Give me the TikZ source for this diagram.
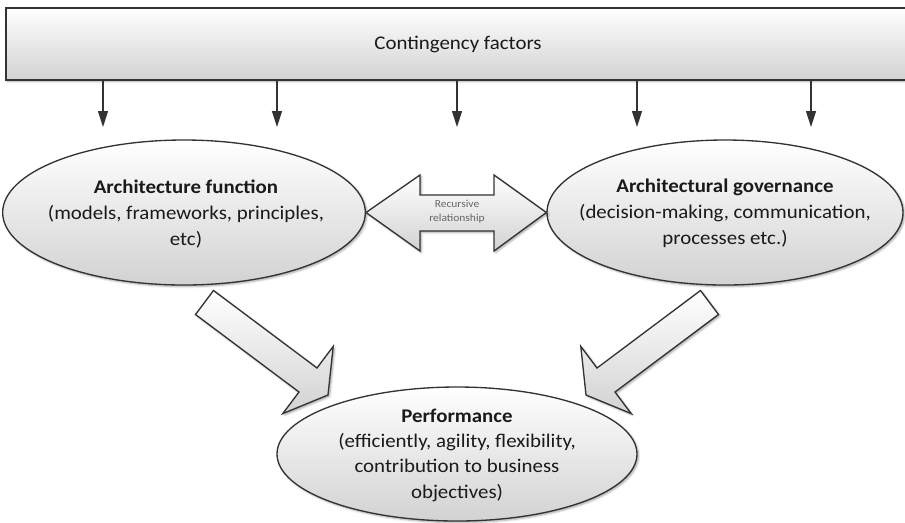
\documentclass[tikz,border=0pt]{standalone}
\usepackage{fontspec}
\setmainfont{Carlito}[FakeStretch=1.08]
\usetikzlibrary{shapes.geometric,arrows.meta,shadows.blur}
\definecolor{ink}{HTML}{1A1A1A}
\definecolor{edge}{HTML}{333333}
\definecolor{fillend}{HTML}{D2D2D2}

\begin{document}
\begin{tikzpicture}[x=0.75pt,y=-0.75pt,
  soft/.style={blur shadow={shadow xshift=1.2pt,shadow yshift=-1.2pt,shadow blur radius=1.5pt,shadow opacity=35}},
  bar/.style={draw=edge,line width=1pt,top color=white,bottom color=fillend,
    minimum width=678pt,minimum height=54pt,inner sep=0pt,soft,text=ink,
    font=\fontsize{14.5}{18}\selectfont},
  oval/.style={ellipse,draw=edge,line width=1pt,top color=white,bottom color=fillend,inner sep=0pt,soft},
  txt/.style={text=ink,align=center,font=\fontsize{14.5}{19.5}\selectfont},
  flow/.style={draw=edge,line width=0.9pt,-{Triangle[length=12pt,width=7.5pt]}},
  block/.style={draw=edge,line width=1pt,line join=miter,top color=white,bottom color=fillend,soft}
]
\clip (0,0) rectangle (905,522);

% contingency bar and its five influence arrows
\node[bar] (cf) at (458,44) {Contingency factors};
\foreach \i/\x in {1/103,2/277,3/457,4/637,5/811}{
  \coordinate (d\i) at (\x,127);
  \draw[flow] (cf.south -| d\i) -- (d\i);
}

% the two upper ellipses
\node[oval,minimum width=272pt,minimum height=108.75pt] (af) at (184,212.5) {};
\node[txt] (aft) at (186,214) {\textbf{Architecture function}\\(models, frameworks, principles,\\etc)};
\node[oval,minimum width=267pt,minimum height=108.75pt] (ag) at (725,212.5) {};
\node[txt] (agt) at (725,213) {\textbf{Architectural governance}\\(decision-making, communication,\\processes etc.)};

% recursive double arrow between them
\draw[block] (af.east) -- (420,175) -- (420,195) -- (494,195) -- (494,175)
  -- (ag.west) -- (494,251) -- (494,231) -- (420,231) -- (420,251) -- cycle;
\node[font=\fontsize{8}{10.5}\selectfont,text=black!60,align=center] (rr) at (457,212) {Recursive\\relationship};

% performance ellipse
\node[oval,minimum width=270pt,minimum height=100.5pt] (pf) at (457,454) {};
\node[txt,font=\fontsize{14.5}{19}\selectfont] (pft) at (457,455)
  {\textbf{Performance}\\(efficiently, agility, flexibility,\\contribution to business\\objectives)};

% block arrows feeding performance
\draw[block] (213.5,290.5) -- (317,368) -- (333.2,346.4) -- (328,395)
  -- (282.8,413.6) -- (299,392) -- (195.5,314.5) -- cycle;
\draw[block] (700.5,290.5) -- (597,368) -- (580.8,346.4) -- (586,395)
  -- (631.2,413.6) -- (615,392) -- (718.5,314.5) -- cycle;
\end{tikzpicture}
\end{document}
